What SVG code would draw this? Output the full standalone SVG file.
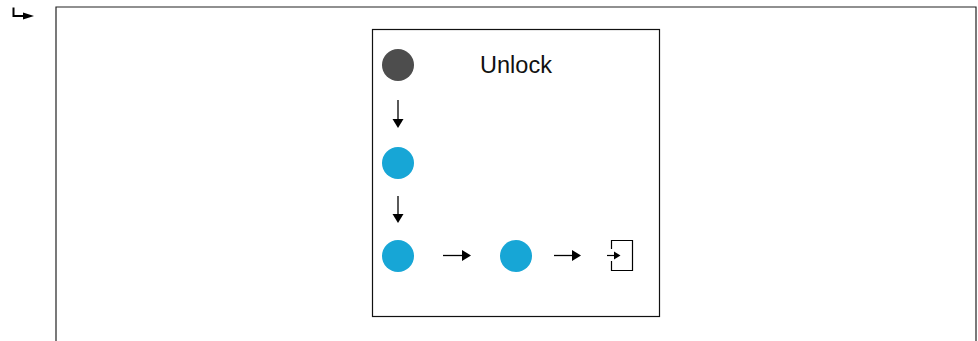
<svg xmlns="http://www.w3.org/2000/svg" width="978" height="341" viewBox="0 0 978 341">
<style>
.frame{fill:none;stroke:#222;stroke-width:1.2}
.box{fill:#fff;stroke:#111;stroke-width:1.2}
.conn{stroke:#000;stroke-width:1.3;fill:none}
.head{fill:#000}
.dark{fill:#4d4d4d}
.blue{fill:#17a6d6}
.label{font-family:"Liberation Sans",Arial,sans-serif;font-size:23.5px;fill:#111}
</style>
<rect width="978" height="341" fill="#fff"/>
<g id="corner-icon">
<path d="M13.5,7.5 V16 H24" fill="none" stroke="#000" stroke-width="2"/>
<polygon points="23,12.5 34,16 23,19.5" fill="#000"/>
</g>
<g id="outer-frame">
<path class="frame" d="M56,341 V7 H976 V341"/>
</g>
<g id="inner-box">
<rect class="box" x="372.5" y="29.5" width="287" height="287"/>
</g>
<g id="start-node">
<circle class="dark" cx="398" cy="65" r="16"/>
</g>
<g id="title">
<text class="label" x="516" y="73" text-anchor="middle">Unlock</text>
</g>
<g id="node-1">
<circle class="blue" cx="398" cy="163" r="16"/>
</g>
<g id="node-2">
<circle class="blue" cx="398" cy="256" r="16"/>
</g>
<g id="node-3">
<circle class="blue" cx="516" cy="256" r="16"/>
</g>
<g id="exit-node">
<path d="M611.5,249 V240.5 H632.5 V270.5 H611.5 V261" fill="none" stroke="#000" stroke-width="1.2"/>
<line x1="607" y1="255.5" x2="615" y2="255.5" stroke="#000" stroke-width="1.2"/>
<polygon points="614,251.5 620.5,255.5 614,259.5" fill="#000"/>
</g>
<g id="connectors">
<line class="conn" x1="398" y1="100" x2="398" y2="120"/>
<polygon class="head" points="392.5,119 403.5,119 398,128"/>
<line class="conn" x1="398" y1="196" x2="398" y2="215"/>
<polygon class="head" points="392.5,214 403.5,214 398,223"/>
<line class="conn" x1="443" y1="255.5" x2="463" y2="255.5"/>
<polygon class="head" points="462,250 471,255.5 462,261"/>
<line class="conn" x1="554" y1="255.5" x2="573" y2="255.5"/>
<polygon class="head" points="572,250 581,255.5 572,261"/>
</g>
</svg>
